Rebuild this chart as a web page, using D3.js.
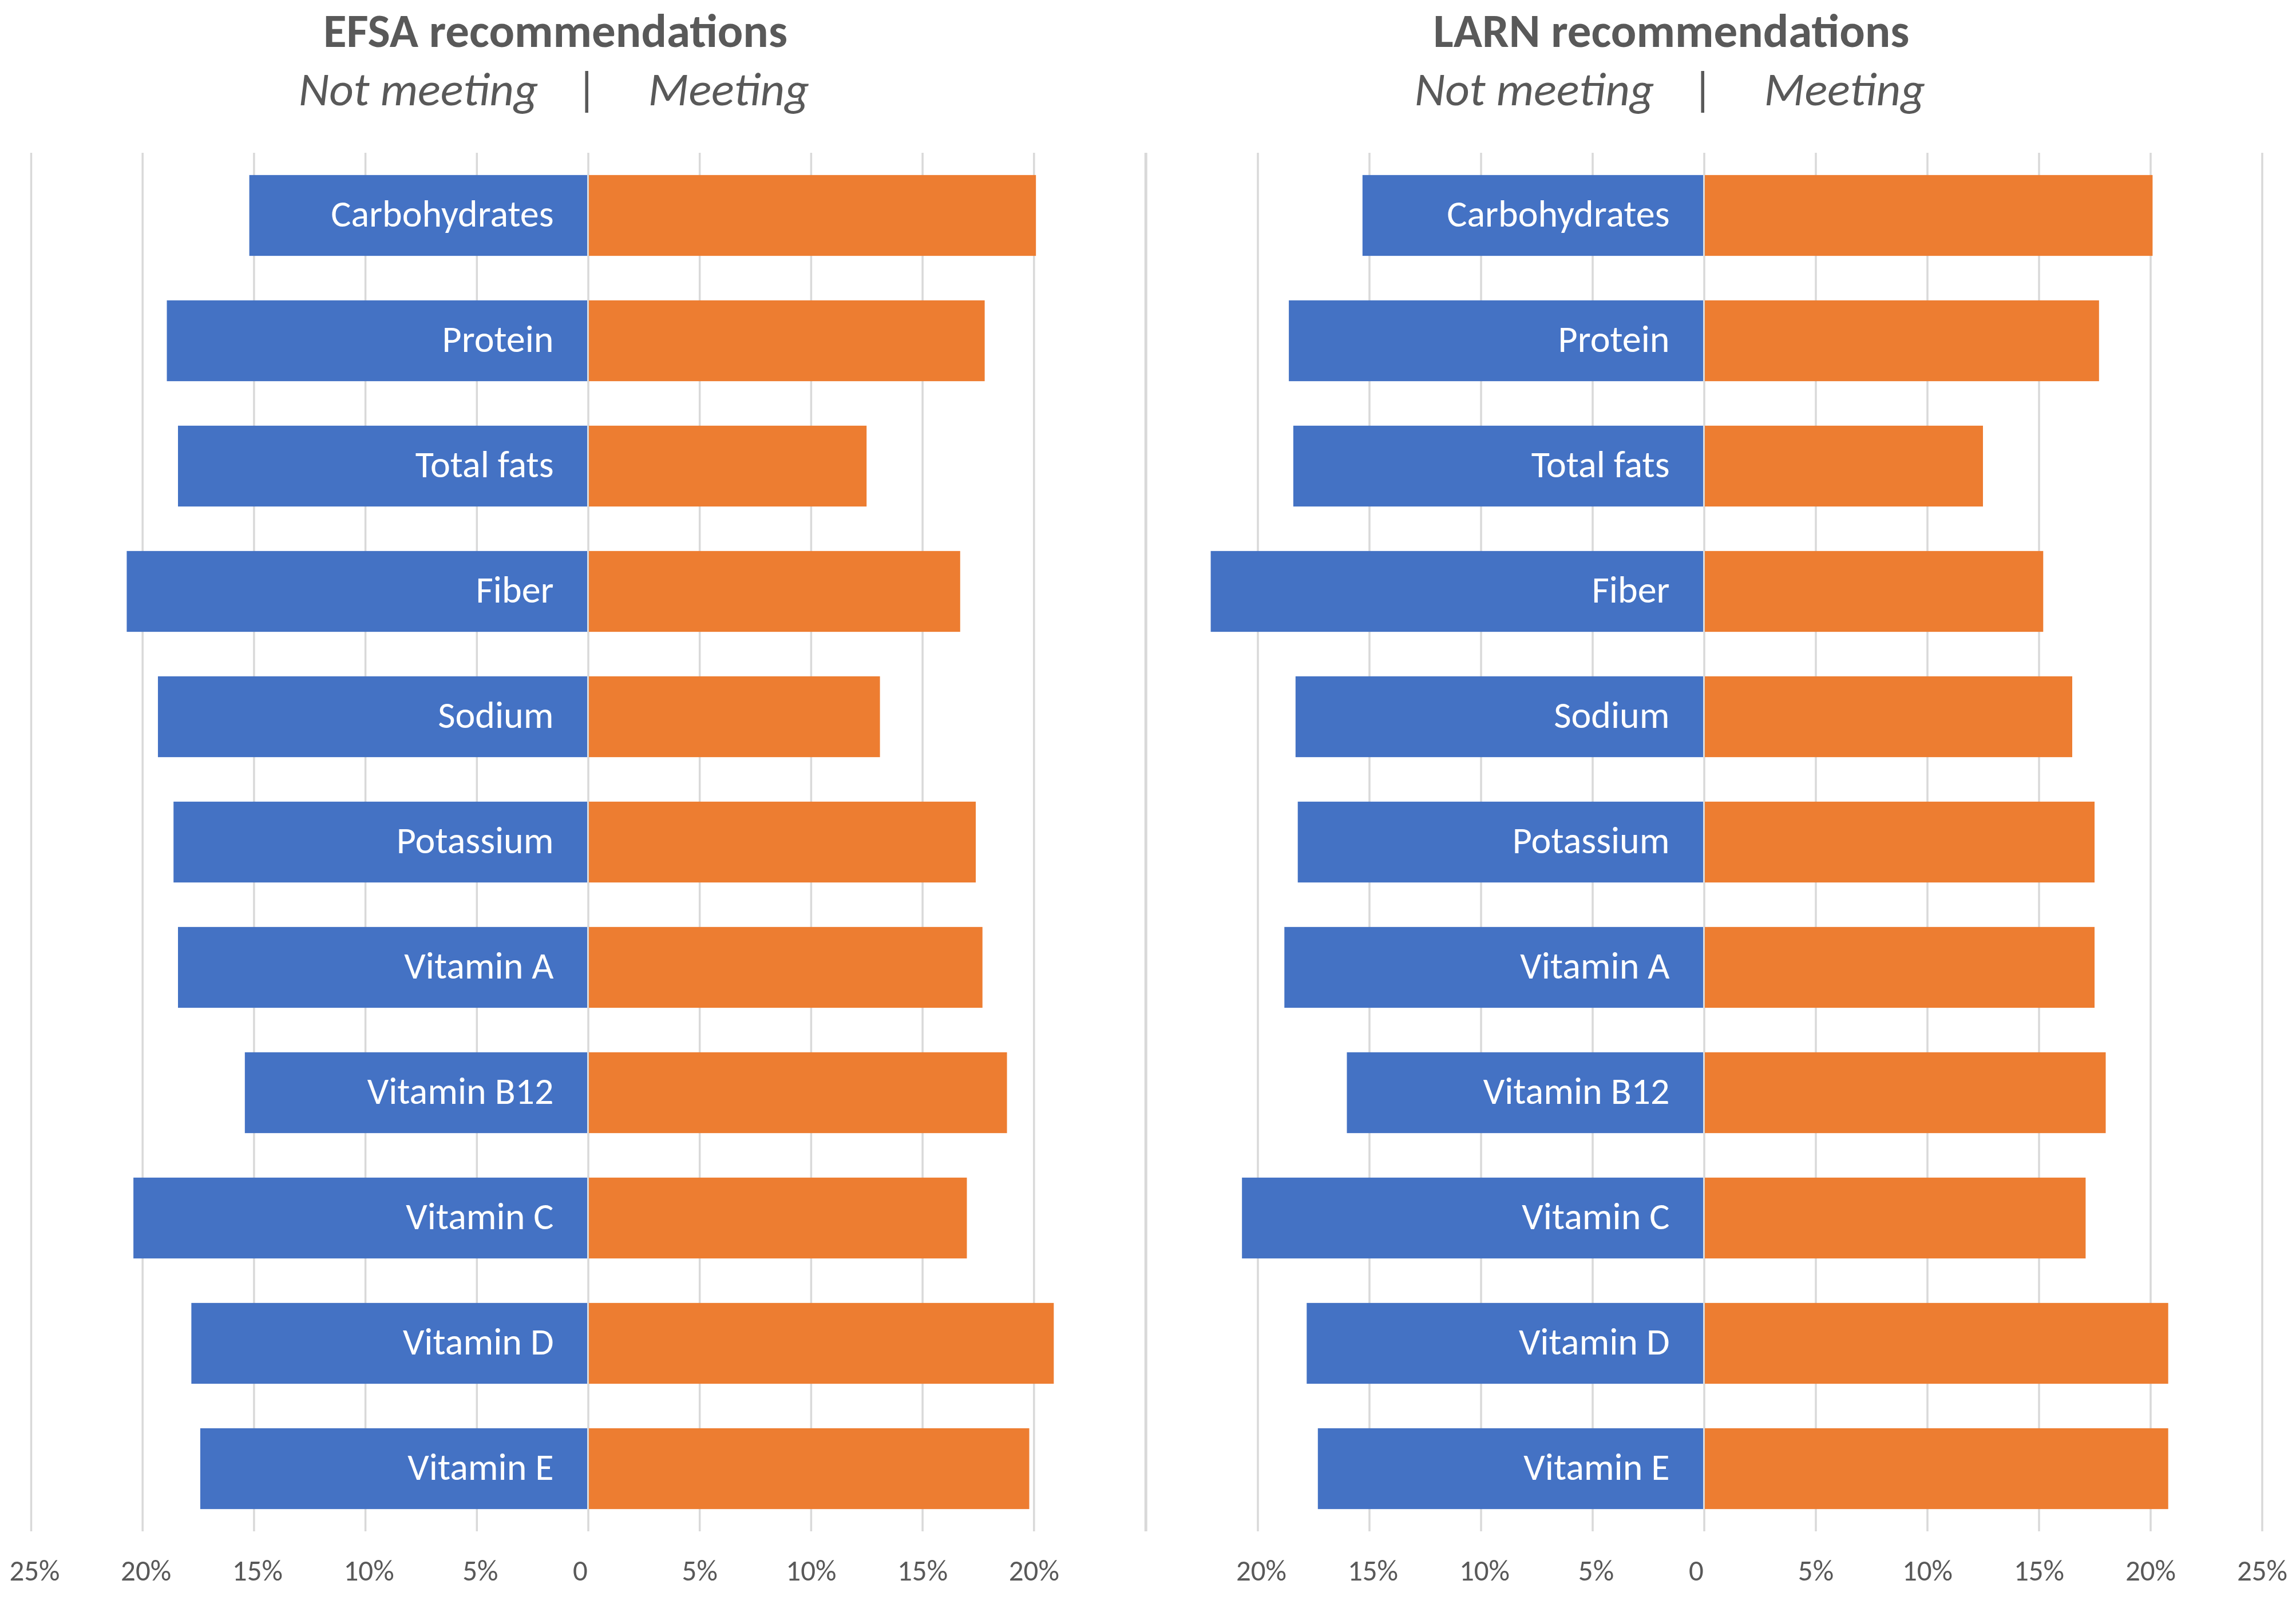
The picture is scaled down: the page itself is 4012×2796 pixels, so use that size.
<!DOCTYPE html>
<html>
<head>
<meta charset="utf-8">
<script src="https://cdn.jsdelivr.net/npm/d3@7"></script>
<style>
  html, body { margin: 0; padding: 0; background: #ffffff; }
  svg { display: block; }
  text { font-family: Carlito, Calibri, Lato, "Open Sans", sans-serif; }
</style>
</head>
<body>
<svg id="chart" width="4012" height="2796"></svg>
<script>
// ---- data ----
const categories = ["Carbohydrates", "Protein", "Total fats", "Fiber", "Sodium", "Potassium",
  "Vitamin A", "Vitamin B12", "Vitamin C", "Vitamin D", "Vitamin E"];
const efsaNotMeeting = [15.2, 18.9, 18.4, 20.7, 19.3, 18.6, 18.4, 15.4, 20.4, 17.8, 17.4];
const efsaMeeting    = [20.1, 17.8, 12.5, 16.7, 13.1, 17.4, 17.7, 18.8, 17.0, 20.9, 19.8];
const larnNotMeeting = [15.3, 18.6, 18.4, 22.1, 18.3, 18.2, 18.8, 16.0, 20.7, 17.8, 17.3];
const larnMeeting    = [20.1, 17.7, 12.5, 15.2, 16.5, 17.5, 17.5, 18.0, 17.1, 20.8, 20.8];
const tickValues = [-25, -20, -15, -10, -5, 0, 5, 10, 15, 20, 25];
const panelTitles = ["EFSA recommendations", "LARN recommendations"];
const leftLabel = "Not meeting", rightLabel = "Meeting", sepLabel = "|";

// ---- styles ----
const blue = "#4472C4", orange = "#ED7D31", gridColor = "#D9D9D9", textColor = "#595959";

const svg = d3.select("#chart");

const y = d3.scaleBand().domain(categories).range([267, 2676])
  .paddingInner(0.355).paddingOuter(0.1775);

const panels = [
  { title: panelTitles[0], notMeeting: efsaNotMeeting, meeting: efsaMeeting, range: [54, 2001], hide: 25 },
  { title: panelTitles[1], notMeeting: larnNotMeeting, meeting: larnMeeting, range: [2002.5, 3952.5], hide: -25 }
];

panels.forEach(p => {
  const x = d3.scaleLinear().domain([-25, 25]).range(p.range);
  const g = svg.append("g");

  // gridlines
  const grid = g.append("g").attr("transform", `translate(0,${y.range()[1]})`)
    .call(d3.axisBottom(x).tickValues(tickValues).tickSize(-(y.range()[1] - y.range()[0])).tickFormat(""));
  grid.select(".domain").remove();
  grid.selectAll(".tick line").attr("stroke", gridColor).attr("stroke-width", 3.5);

  // tick labels
  const ax = g.append("g").attr("transform", `translate(0,2762)`)
    .call(d3.axisBottom(x).tickValues(tickValues.filter(t => t !== p.hide)).tickSize(0)
      .tickFormat(d => d === 0 ? "0" : Math.abs(d) + "%"));
  ax.select(".domain").remove();
  ax.selectAll(".tick text").attr("y", 0).attr("dy", 0)
    .attr("fill", textColor).attr("font-size", 51)
    .attr("dx", d => d === 0 ? -14 : (d < 0 ? 6 : 0))
    .style("font-family", "Carlito, Calibri, Lato, sans-serif");

  const rows = categories.map((c, i) => ({ c, nm: p.notMeeting[i], m: p.meeting[i] }));

  // not meeting bars (left)
  g.selectAll(".nm").data(rows).join("rect")
    .attr("x", d => x(-d.nm)).attr("width", d => x(0) - 1.5 - x(-d.nm))
    .attr("y", d => y(d.c)).attr("height", y.bandwidth()).attr("fill", blue);
  // meeting bars (right)
  g.selectAll(".m").data(rows).join("rect")
    .attr("x", x(0) + 1.5).attr("width", d => x(d.m) - x(0) - 1.5)
    .attr("y", d => y(d.c)).attr("height", y.bandwidth()).attr("fill", orange);

  // category labels
  g.selectAll(".lbl").data(rows).join("text")
    .attr("x", x(0) - 60).attr("y", d => y(d.c) + y.bandwidth() / 2)
    .attr("dy", "0.3em").attr("text-anchor", "end")
    .attr("fill", "#ffffff").attr("font-size", 66)
    .text(d => d.c);

  // titles
  g.append("text").attr("x", x(0) - 57).attr("y", 82)
    .attr("text-anchor", "middle").attr("font-weight", "bold")
    .attr("font-size", 83).attr("fill", textColor).text(p.title);
  g.append("text").attr("x", x(0) - 87).attr("y", 184)
    .attr("text-anchor", "end").attr("font-style", "italic")
    .attr("font-size", 83).attr("fill", textColor).text(leftLabel);
  g.append("text").attr("x", x(0)).attr("y", 184)
    .attr("text-anchor", "middle").attr("font-style", "italic")
    .attr("font-size", 83).attr("fill", textColor).text(sepLabel);
  g.append("text").attr("x", x(0) + 105).attr("y", 184)
    .attr("text-anchor", "start").attr("font-style", "italic")
    .attr("font-size", 83).attr("fill", textColor).text(rightLabel);
});
</script>
</body>
</html>
